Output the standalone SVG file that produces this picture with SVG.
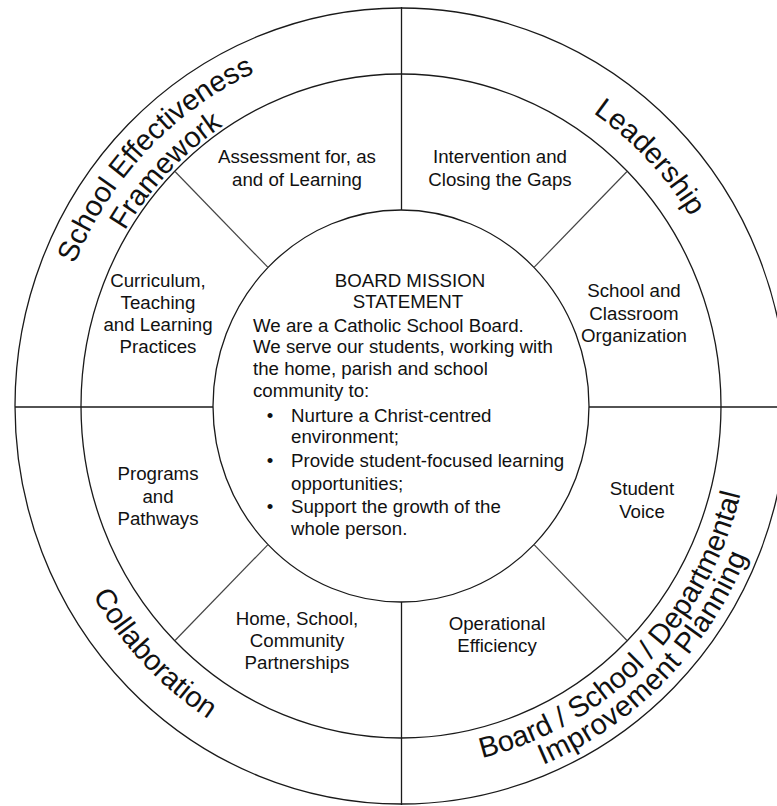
<svg xmlns="http://www.w3.org/2000/svg" width="777" height="806" viewBox="0 0 777 806">
<style>
  .ring { fill: none; stroke: #1a1a1a; stroke-width: 1.3; }
  .div { stroke: #1a1a1a; stroke-width: 1.3; }
  .spoke { stroke: #444; stroke-width: 1.2; }
  .t { font-family: "Liberation Sans", Arial, sans-serif; font-size: 18.7px; fill: #111; }
  .c { text-anchor: middle; }
  .big { font-family: "Liberation Sans", Arial, sans-serif; font-size: 29px; fill: #111; }
  .wide { letter-spacing: 0.5px; }
</style>
<defs>
  <!-- elliptical text paths, centre (401,406), rx = 0.967*R, ry = R -->
  <path id="pSE" d="M111.0,615.9 A354.0,366 0 0 1 604.1,106.2"/>
  <path id="pFW" d="M135.6,598.2 A324.0,335 0 0 1 586.8,131.6"/>
  <path id="pLD" d="M204.7,116.0 A342.3,354 0 0 1 681.4,609.1"/>
  <path id="pCO" d="M107.1,193.2 A358.8,371 0 0 0 606.8,709.9"/>
  <path id="pBS" d="M195.2,698.9 A350.1,362 0 0 0 691.2,203.6"/>
  <path id="pIP" d="M180.5,719.9 A375.2,388 0 0 0 712.0,189.0"/>
</defs>
<rect width="777" height="806" fill="#fff"/>
<g id="rings">
  <ellipse class="ring" cx="401" cy="406" rx="386" ry="398"/>
  <ellipse class="ring" cx="401" cy="406" rx="320" ry="332"/>
  <ellipse class="ring" cx="401" cy="406" rx="188" ry="196"/>
</g>
<g id="connectors">
  <line class="div" x1="401.5" y1="7" x2="401.5" y2="210"/>
  <line class="div" x1="401.5" y1="602" x2="401.5" y2="805"/>
  <line class="div" x1="15" y1="407" x2="213" y2="407"/>
  <line class="div" x1="589" y1="407" x2="777" y2="407"/>
  <line class="spoke" x1="268" y1="267.4" x2="175" y2="171.5"/>
  <line class="spoke" x1="534" y1="267.4" x2="627" y2="171.5"/>
  <line class="spoke" x1="268" y1="544.6" x2="175" y2="640.5"/>
  <line class="spoke" x1="534" y1="544.6" x2="627" y2="640.5"/>
</g>
<g id="mission">
  <text class="t c" x="410" y="287">BOARD MISSION</text>
  <text class="t c" x="408" y="308">STATEMENT</text>
  <text class="t" x="253" y="332">We are a Catholic School Board.</text>
  <text class="t" x="253" y="353">We serve our students, working with</text>
  <text class="t" x="253" y="375">the home, parish and school</text>
  <text class="t" x="253" y="397">community to:</text>
  <text class="t c" x="270" y="422">•</text>
  <text class="t" x="291" y="422">Nurture a Christ-centred</text>
  <text class="t" x="291" y="443">environment;</text>
  <text class="t c" x="270" y="467">•</text>
  <text class="t" x="291" y="467">Provide student-focused learning</text>
  <text class="t" x="291" y="490">opportunities;</text>
  <text class="t c" x="270" y="513">•</text>
  <text class="t" x="291" y="513">Support the growth of the</text>
  <text class="t" x="291" y="535">whole person.</text>
</g>
<g id="assessment">
  <text class="t c" x="297" y="163">Assessment for, as</text>
  <text class="t c" x="297" y="186">and of Learning</text>
</g>
<g id="intervention">
  <text class="t c" x="500" y="163">Intervention and</text>
  <text class="t c" x="500" y="186">Closing the Gaps</text>
</g>
<g id="curriculum">
  <text class="t c" x="158" y="287">Curriculum,</text>
  <text class="t c" x="158" y="309">Teaching</text>
  <text class="t c" x="158" y="331">and Learning</text>
  <text class="t c" x="158" y="353">Practices</text>
</g>
<g id="organization">
  <text class="t c" x="634" y="297">School and</text>
  <text class="t c" x="634" y="320">Classroom</text>
  <text class="t c" x="634" y="342">Organization</text>
</g>
<g id="programs">
  <text class="t c" x="158" y="480">Programs</text>
  <text class="t c" x="158" y="503">and</text>
  <text class="t c" x="158" y="525">Pathways</text>
</g>
<g id="student-voice">
  <text class="t c" x="642" y="495">Student</text>
  <text class="t c" x="642" y="518">Voice</text>
</g>
<g id="partnerships">
  <text class="t c" x="297" y="625">Home, School,</text>
  <text class="t c" x="297" y="647">Community</text>
  <text class="t c" x="297" y="669">Partnerships</text>
</g>
<g id="efficiency">
  <text class="t c" x="497" y="630">Operational</text>
  <text class="t c" x="497" y="652">Efficiency</text>
</g>
<g id="sef">
  <text class="big"><textPath href="#pSE" startOffset="50%" text-anchor="middle">School Effectiveness</textPath></text>
  <text class="big"><textPath href="#pFW" startOffset="50%" text-anchor="middle">Framework</textPath></text>
</g>
<g id="leadership">
  <text class="big"><textPath href="#pLD" startOffset="50%" text-anchor="middle">Leadership</textPath></text>
</g>
<g id="collaboration">
  <text class="big"><textPath href="#pCO" startOffset="50%" text-anchor="middle">Collaboration</textPath></text>
</g>
<g id="planning">
  <text class="big"><textPath href="#pBS" startOffset="50%" text-anchor="middle">Board / School / Departmental</textPath></text>
  <text class="big wide"><textPath href="#pIP" startOffset="50%" text-anchor="middle">Improvement Planning</textPath></text>
</g>
</svg>
